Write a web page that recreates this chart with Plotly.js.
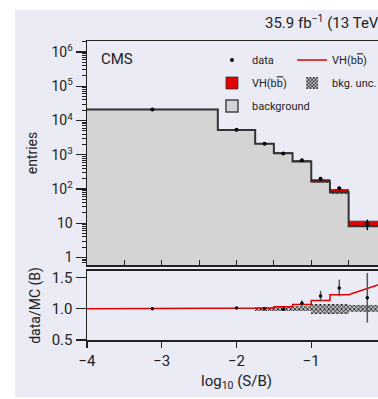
<!DOCTYPE html>
<html>
<head>
<meta charset="utf-8">
<script src="https://cdn.plot.ly/plotly-3.0.1.min.js"></script>
<style>
html,body{margin:0;padding:0;background:#ffffff;overflow:hidden;width:378px;height:399px;}
#chart{position:absolute;left:15px;top:10px;width:420px;height:387px;}
</style>
</head>
<body>
<div id="chart"></div>
<script>
// bin edges in log10(S/B)
const binEdges = [-4, -2.25, -1.75, -1.5, -1.25, -1.0, -0.75, -0.5, 0];
// background expectation per bin (entries)
const background = [21000, 5300, 2100, 1100, 630, 165, 79, 8.1];
// VH(bb) signal per bin (entries)
const signal = [0, 4, 21, 33, 41, 21.5, 17.4, 3.4];
// observed data and its uncertainty
const dataObs = [21000, 5350, 2100, 1090, 684, 198, 105, 9.5];
const dataErr = [145, 73, 46, 33, 28, 14, 10.5, 3.2];
// relative background uncertainty per bin
const bkgRelUnc = [0.005, 0.005, 0.03, 0.035, 0.035, 0.08, 0.08, 0.05];

const yTickVals = [1, 10, 100, 1000, 10000, 100000, 1000000];
const yTickText = ['1', '10', '10<sup>2</sup>', '10<sup>3</sup>', '10<sup>4</sup>', '10<sup>5</sup>', '10<sup>6</sup>'];
const xTickVals = [-4, -3, -2, -1];

const FONT = 'Roboto, Liberation Sans, sans-serif';
const BG = '#ebebf5';
const AX = '#222222';
const RED = '#e00000';
const GRAY = '#d4d4d4';

const n = background.length;
const centers = [], widths = [];
for (let i = 0; i < n; i++) {
  centers.push((binEdges[i] + binEdges[i + 1]) / 2);
  widths.push(binEdges[i + 1] - binEdges[i]);
}
const stepY = background.concat([background[n - 1]]);
const uncBase = background.map((b, i) => b * (1 - bkgRelUnc[i]));
const uncHeight = background.map((b, i) => 2 * b * bkgRelUnc[i]);
const ratio = dataObs.map((d, i) => d / background[i]);
const ratioErr = dataErr.map((e, i) => e / background[i]);
const sbRatio = signal.map((s, i) => (s + background[i]) / background[i]);
const lineX = [], lineY = [];
for (let i = 0; i < n - 1; i++) {
  lineX.push(binEdges[i], binEdges[i + 1]);
  lineY.push(sbRatio[i], sbRatio[i]);
}
lineX.push(binEdges[n]); lineY.push(sbRatio[n - 1]);

const pattern = {shape: 'x', size: 3, solidity: 0.45, fgcolor: '#111', bgcolor: 'rgba(150,150,150,0.5)'};
const VH = 'VH(b<span style="text-decoration:overline">b</span>)';

const traces = [
  // background filled bars
  {type: 'bar', x: centers, y: background, width: widths, xaxis: 'x', yaxis: 'y',
   marker: {color: GRAY, line: {width: 0}}, showlegend: false, hoverinfo: 'skip'},
  // signal stacked on background
  {type: 'bar', x: centers, y: signal, base: background, width: widths, xaxis: 'x', yaxis: 'y',
   marker: {color: RED, line: {color: '#333', width: 0.8}}, name: VH, legend: 'legend',
   legendgroup: 'sig', legendrank: 2},
  // background uncertainty in upper panel
  {type: 'bar', x: centers, y: uncHeight, base: uncBase, width: widths, xaxis: 'x', yaxis: 'y',
   marker: {color: 'rgba(0,0,0,0)', line: {width: 0}, pattern: {shape: 'x', size: 3, solidity: 0.45, fgcolor: '#111', bgcolor: 'rgba(0,0,0,0)'}},
   showlegend: false, hoverinfo: 'skip'},
  // background step outline
  {type: 'scatter', mode: 'lines', x: binEdges, y: stepY, line: {shape: 'hv', color: '#333', width: 2},
   xaxis: 'x', yaxis: 'y', showlegend: false, hoverinfo: 'skip'},
  // legend entry for background
  {type: 'bar', x: [null], y: [null], xaxis: 'x', yaxis: 'y', name: 'background',
   marker: {color: GRAY, line: {color: '#444', width: 1.5}}, legend: 'legend', legendgroup: 'bkg', legendrank: 3},
  // data points
  {type: 'scatter', mode: 'markers', x: centers, y: dataObs, xaxis: 'x', yaxis: 'y', name: 'data',
   marker: {color: '#000', size: 4},
   error_y: {type: 'data', array: dataErr, color: '#000', thickness: 1.5, width: 0},
   legend: 'legend', legendgroup: 'data', legendrank: 1},
  // ratio panel: (S+B)/B line
  {type: 'scatter', mode: 'lines', x: lineX, y: lineY, xaxis: 'x2', yaxis: 'y2', name: VH,
   line: {color: RED, width: 1.5}, legend: 'legend2', legendgroup: 'sigline', legendrank: 1},
  // ratio panel: background uncertainty band
  {type: 'bar', x: centers, y: bkgRelUnc.map(u => 2 * u), base: bkgRelUnc.map(u => 1 - u), width: widths,
   xaxis: 'x2', yaxis: 'y2', name: 'bkg. unc.', marker: {color: 'rgba(0,0,0,0)', line: {width: 0}, pattern: pattern},
   legend: 'legend2', legendgroup: 'unc', legendrank: 2},
  // ratio panel: data / background
  {type: 'scatter', mode: 'markers', x: centers, y: ratio, xaxis: 'x2', yaxis: 'y2', showlegend: false,
   marker: {color: '#000', size: 3.5},
   error_y: {type: 'data', array: ratioErr, color: '#555', thickness: 1.5, width: 0}}
];

const layout = {
  width: 420, height: 387,
  margin: {l: 72, r: 49, t: 31, b: 57},
  paper_bgcolor: BG, plot_bgcolor: BG,
  font: {family: FONT, size: 14, color: '#222'},
  barmode: 'overlay', bargap: 0,
  showlegend: true,
  xaxis: {domain: [0, 1], anchor: 'y', range: [-4, 0], showticklabels: false, ticks: 'inside',
          tick0: -4, dtick: 0.5, ticklen: 5, tickcolor: AX, tickwidth: 1.2, showgrid: false, zeroline: false,
          showline: true, linecolor: AX, linewidth: 1.5, mirror: true},
  yaxis: {domain: [0.2508, 1], anchor: 'x', type: 'log', range: [-0.22, 6.32],
          tickvals: yTickVals, ticktext: yTickText, ticks: 'outside', ticklen: 10, tickcolor: AX, tickwidth: 1.2,
          minor: {ticks: 'outside', ticklen: 4, dtick: 'D1', tickcolor: AX, tickwidth: 1, showgrid: false},
          showgrid: false, zeroline: false, showline: true, linecolor: AX, linewidth: 1.5, mirror: true,
          title: {text: 'entries', font: {size: 14}, standoff: 10}},
  xaxis2: {domain: [0, 1], anchor: 'y2', range: [-4, 0], tickvals: xTickVals, ticks: 'outside', ticklen: 6,
           tickcolor: AX, tickwidth: 1.2, showgrid: false, zeroline: false, showline: true, linecolor: AX,
           linewidth: 2, mirror: true, tickfont: {size: 15},
           title: {text: 'log<sub>10</sub> (S/B)', font: {size: 15}, standoff: 6}},
  yaxis2: {domain: [0, 0.2308], anchor: 'x2', range: [0.5, 1.6], tickvals: [0.5, 1.0, 1.5], tickformat: '.1f',
           ticks: 'outside', ticklen: 10, tickcolor: AX, tickwidth: 1.2, showgrid: false, zeroline: false,
           showline: true, linecolor: AX, linewidth: 1.5, mirror: true, tickfont: {size: 15},
           title: {text: 'data/MC (B)', font: {size: 14}, standoff: 8}},
  legend: {x: 0.418, y: 0.985, xanchor: 'left', yanchor: 'top', bgcolor: 'rgba(0,0,0,0)',
           font: {size: 11}, traceorder: 'grouped', tracegroupgap: 4},
  legend2: {x: 0.686, y: 0.985, xanchor: 'left', yanchor: 'top', bgcolor: 'rgba(0,0,0,0)',
            font: {size: 11}, traceorder: 'grouped', tracegroupgap: 4},
  annotations: [
    {text: 'CMS', xref: 'x domain', yref: 'y domain', x: 0.04, y: 0.92, xanchor: 'left', yanchor: 'middle',
     showarrow: false, font: {size: 15, color: '#222'}},
    {text: '35.9 fb<sup>\u22121</sup> (13 TeV)', xref: 'paper', yref: 'paper', x: 0.589, y: 1.063,
     xanchor: 'left', yanchor: 'middle', showarrow: false, font: {size: 15, color: '#222'}}
  ]
};

Plotly.newPlot('chart', traces, layout, {displayModeBar: false, staticPlot: true});
</script>
</body>
</html>
